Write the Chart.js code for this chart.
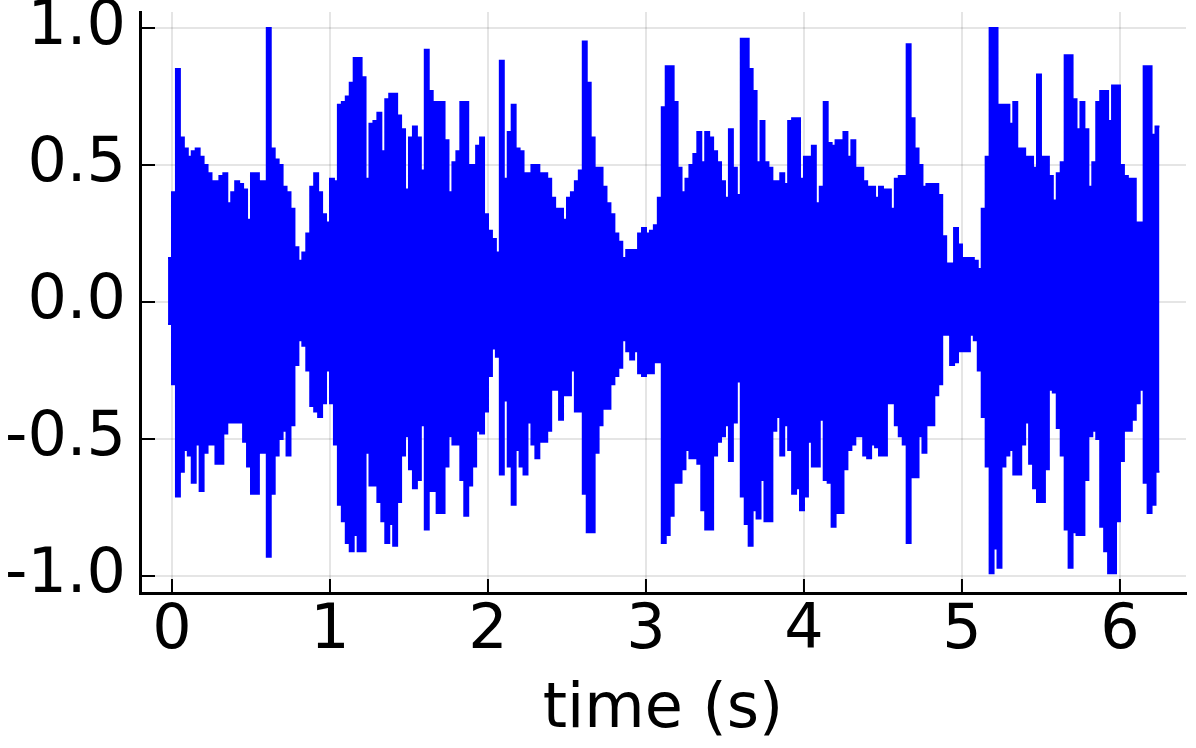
<!DOCTYPE html>
<html>
<head>
<meta charset="utf-8">
<script src="https://cdn.jsdelivr.net/npm/chart.js@4.4.0/dist/chart.umd.min.js"></script>
<style>
  html, body { margin: 0; padding: 0; background: #fff; }
  #wrap { width: 1196px; height: 748px; }
</style>
</head>
<body>
<div id="wrap"><canvas id="chart" width="1196" height="748"></canvas></div>
<script>
// Waveform envelope, every 25 ms (upper / lower peaks)
const startTime = -0.025;
const step = 0.025;

const upper = [
    0.16, 0.40, 0.85, 0.60, 0.56, 0.53, 0.55, 0.56, 0.53, 0.50,
    0.47, 0.44, 0.44, 0.46, 0.47, 0.36, 0.40, 0.44, 0.43, 0.41,
    0.30, 0.47, 0.47, 0.44, 0.44, 1.00, 0.56, 0.52, 0.50, 0.42,
    0.40, 0.34, 0.20, 0.15, 0.18, 0.25, 0.42, 0.47, 0.40, 0.32,
    0.29, 0.45, 0.44, 0.72, 0.73, 0.75, 0.80, 0.89, 0.89, 0.82,
    0.45, 0.65, 0.66, 0.69, 0.55, 0.74, 0.76, 0.76, 0.68, 0.63,
    0.41, 0.60, 0.64, 0.60, 0.48, 0.92, 0.77, 0.73, 0.73, 0.73,
    0.59, 0.40, 0.51, 0.55, 0.73, 0.73, 0.50, 0.50, 0.57, 0.60,
    0.32, 0.26, 0.23, 0.18, 0.88, 0.45, 0.62, 0.72, 0.56, 0.55,
    0.47, 0.47, 0.50, 0.50, 0.47, 0.47, 0.45, 0.38, 0.34, 0.34,
    0.30, 0.38, 0.40, 0.44, 0.48, 0.95, 0.80, 0.60, 0.49, 0.49,
    0.42, 0.36, 0.32, 0.25, 0.22, 0.16, 0.19, 0.19, 0.19, 0.25,
    0.27, 0.25, 0.26, 0.28, 0.38, 0.71, 0.86, 0.86, 0.73, 0.49,
    0.40, 0.45, 0.50, 0.54, 0.62, 0.51, 0.62, 0.60, 0.55, 0.51,
    0.44, 0.38, 0.63, 0.49, 0.39, 0.96, 0.96, 0.85, 0.77, 0.51,
    0.66, 0.51, 0.49, 0.44, 0.44, 0.47, 0.43, 0.66, 0.67, 0.67,
    0.45, 0.53, 0.53, 0.57, 0.36, 0.42, 0.73, 0.58, 0.57, 0.59,
    0.59, 0.62, 0.53, 0.59, 0.49, 0.49, 0.44, 0.42, 0.42, 0.38,
    0.42, 0.41, 0.41, 0.34, 0.45, 0.46, 0.46, 0.94, 0.67, 0.56,
    0.50, 0.42, 0.43, 0.43, 0.43, 0.39, 0.24, 0.14, 0.14, 0.27,
    0.21, 0.16, 0.16, 0.16, 0.15, 0.12, 0.34, 0.53, 1.00, 1.00,
    0.72, 0.72, 0.72, 0.65, 0.73, 0.56, 0.56, 0.53, 0.53, 0.49,
    0.83, 0.53, 0.53, 0.46, 0.37, 0.47, 0.51, 0.90, 0.90, 0.74,
    0.63, 0.73, 0.63, 0.42, 0.51, 0.73, 0.77, 0.77, 0.66, 0.79,
    0.79, 0.50, 0.46, 0.45, 0.45, 0.29, 0.29, 0.86, 0.86, 0.61,
    0.64, 0.64
];

const lower = [
    -0.08, -0.30, -0.71, -0.62, -0.54, -0.56, -0.66, -0.52, -0.69, -0.55,
    -0.52, -0.52, -0.59, -0.59, -0.48, -0.44, -0.44, -0.44, -0.44, -0.51,
    -0.60, -0.70, -0.70, -0.55, -0.55, -0.93, -0.70, -0.56, -0.50, -0.47,
    -0.56, -0.45, -0.23, -0.14, -0.16, -0.25, -0.38, -0.40, -0.42, -0.37,
    -0.25, -0.37, -0.52, -0.74, -0.80, -0.88, -0.91, -0.85, -0.91, -0.91,
    -0.55, -0.67, -0.67, -0.73, -0.80, -0.88, -0.81, -0.89, -0.73, -0.56,
    -0.49, -0.61, -0.68, -0.65, -0.45, -0.83, -0.69, -0.69, -0.77, -0.77,
    -0.60, -0.49, -0.52, -0.52, -0.65, -0.78, -0.67, -0.60, -0.47, -0.48,
    -0.40, -0.27, -0.17, -0.20, -0.63, -0.36, -0.60, -0.74, -0.54, -0.60,
    -0.63, -0.44, -0.52, -0.57, -0.51, -0.51, -0.47, -0.32, -0.32, -0.43,
    -0.34, -0.34, -0.25, -0.40, -0.40, -0.70, -0.84, -0.84, -0.55, -0.45,
    -0.39, -0.39, -0.30, -0.27, -0.24, -0.14, -0.18, -0.21, -0.18, -0.26,
    -0.27, -0.26, -0.26, -0.22, -0.22, -0.88, -0.85, -0.78, -0.66, -0.66,
    -0.61, -0.54, -0.57, -0.57, -0.59, -0.76, -0.83, -0.83, -0.56, -0.51,
    -0.49, -0.45, -0.58, -0.44, -0.29, -0.71, -0.81, -0.89, -0.76, -0.79,
    -0.65, -0.80, -0.80, -0.47, -0.42, -0.56, -0.45, -0.54, -0.70, -0.68,
    -0.76, -0.71, -0.51, -0.60, -0.60, -0.43, -0.65, -0.66, -0.82, -0.77,
    -0.77, -0.61, -0.54, -0.52, -0.49, -0.49, -0.56, -0.57, -0.52, -0.53,
    -0.56, -0.56, -0.37, -0.37, -0.45, -0.49, -0.52, -0.88, -0.64, -0.64,
    -0.49, -0.55, -0.45, -0.45, -0.34, -0.30, -0.12, -0.12, -0.23, -0.22,
    -0.18, -0.18, -0.18, -0.12, -0.14, -0.25, -0.42, -0.60, -0.99, -0.90,
    -0.97, -0.60, -0.56, -0.54, -0.63, -0.63, -0.52, -0.44, -0.59, -0.68,
    -0.73, -0.73, -0.61, -0.32, -0.33, -0.46, -0.56, -0.83, -0.97, -0.84,
    -0.85, -0.85, -0.65, -0.49, -0.47, -0.50, -0.82, -0.91, -0.99, -0.99,
    -0.80, -0.58, -0.47, -0.47, -0.43, -0.37, -0.32, -0.66, -0.77, -0.74,
    -0.62, -0.62
];

const xTicks = [0, 1, 2, 3, 4, 5, 6];
const yTicks = [-1.0, -0.5, 0.0, 0.5, 1.0];

const toPoints = arr => arr.map((v, i) => ({ x: startTime + i * step, y: v }));

// small tick marks pointing into the plot, like the original
const innerTicks = {
    id: 'innerTicks',
    afterDraw(chart) {
        const { ctx, chartArea, scales } = chart;
        ctx.save();
        ctx.strokeStyle = '#000';
        ctx.lineWidth = 2;
        ctx.beginPath();
        xTicks.forEach(v => {
            const px = scales.x.getPixelForValue(v);
            ctx.moveTo(px, chartArea.bottom);
            ctx.lineTo(px, chartArea.bottom - 14);
        });
        yTicks.forEach(v => {
            const py = scales.y.getPixelForValue(v);
            ctx.moveTo(chartArea.left, py);
            ctx.lineTo(chartArea.left + 15, py);
        });
        ctx.stroke();
        ctx.restore();
    }
};

const font = { family: '"DejaVu Sans", sans-serif', size: 62 };
const blue = '#0000ff';

new Chart(document.getElementById('chart'), {
    type: 'line',
    data: {
        datasets: [
            {
                data: toPoints(upper),
                borderColor: blue,
                backgroundColor: blue,
                borderWidth: 2,
                stepped: true,
                pointRadius: 0,
                fill: '+1'
            },
            {
                data: toPoints(lower),
                borderColor: blue,
                backgroundColor: blue,
                borderWidth: 2,
                stepped: true,
                pointRadius: 0,
                fill: false
            }
        ]
    },
    options: {
        responsive: false,
        animation: false,
        events: [],
        layout: { autoPadding: false, padding: { top: 12, right: 10, left: 0, bottom: 0 } },
        plugins: { legend: { display: false }, tooltip: { enabled: false } },
        scales: {
            x: {
                type: 'linear',
                min: -0.2025,
                max: 6.418,
                afterBuildTicks: s => { s.ticks = xTicks.map(v => ({ value: v })); },
                afterFit: s => { s.height = 155; s.paddingLeft = 0; s.paddingRight = 0; },
                ticks: { font, color: '#000', padding: 2, maxRotation: 0, includeBounds: false,
                         callback: v => String(v) },
                grid: { color: 'rgba(0,0,0,0.1)', lineWidth: 2, drawTicks: false },
                border: { display: true, color: '#000', width: 3 },
                title: { display: true, text: 'time (s)', font, color: '#000', padding: { top: 0, bottom: 0 } }
            },
            y: {
                min: -1.062,
                max: 1.058,
                afterBuildTicks: s => { s.ticks = yTicks.map(v => ({ value: v })); },
                afterFit: s => { s.width = 140; s.paddingTop = 0; s.paddingBottom = 0; },
                ticks: { font, color: '#000', padding: 14, includeBounds: false,
                         callback: v => v.toFixed(1) },
                grid: { color: 'rgba(0,0,0,0.1)', lineWidth: 2, drawTicks: false },
                border: { display: true, color: '#000', width: 3 }
            }
        }
    },
    plugins: [innerTicks]
});
</script>
</body>
</html>
